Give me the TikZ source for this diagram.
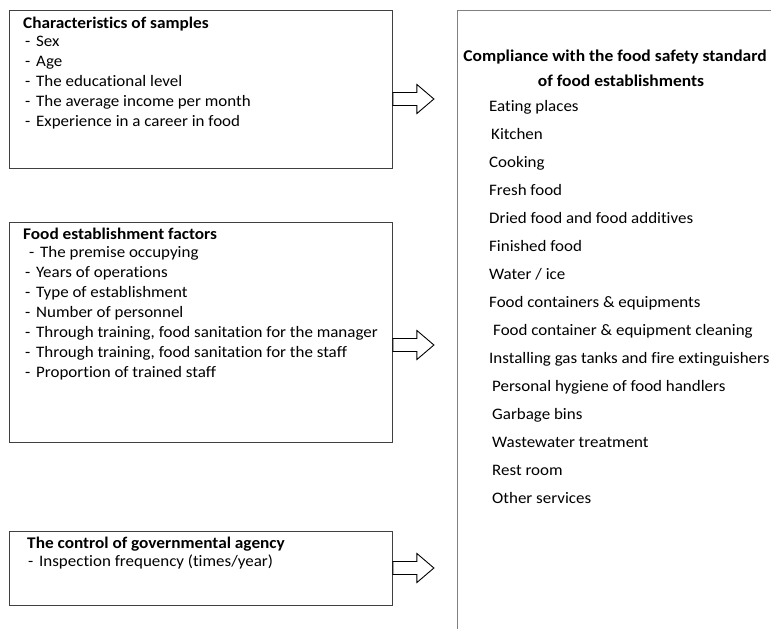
\documentclass[tikz,border=0pt]{standalone}
\usepackage{fontspec}
\setmainfont{Carlito}[FakeStretch=1.06,Ligatures=NoCommon]
\begin{document}
\begin{tikzpicture}[x=1pt,y=-1pt,
  box/.style={draw=black!75,line width=0.9pt,anchor=north west,inner sep=0pt},
  rbox/.style={draw=black!50,line width=1pt,anchor=north west,inner sep=0pt},
  txt/.style={anchor=base west,inner sep=0pt,font=\fontsize{16}{20}\selectfont},
  ttl/.style={txt,font=\fontsize{16.3}{20}\selectfont\bfseries},
  ctr/.style={anchor=base,inner sep=0pt,font=\fontsize{16.5}{20}\selectfont\bfseries},
  blockarrow/.style={draw=black,line width=0.9pt,fill=white,line join=miter}]
\useasboundingbox (0,0) rectangle (771,629);
\clip (0,0) rectangle (771,629);
\newcommand{\dashitem}[1]{\makebox[11pt][l]{-}#1}
% left boxes
\node[box,minimum width=383pt,minimum height=158pt] (b1) at (9,10) {};
\node[box,minimum width=383pt,minimum height=220pt] (b2) at (9,222) {};
\node[box,minimum width=383pt,minimum height=74pt] (b3) at (9,531) {};
% right box (runs off the page)
\node[rbox,minimum width=340pt,minimum height=660pt] (r) at (457,10) {};
% box 1 text
\node[ttl] (t1) at (23,28) {Characteristics of samples};
\node[txt] (t1a) at (25,46) {\dashitem{Sex}};
\node[txt] (t1b) at (25,66) {\dashitem{Age}};
\node[txt] (t1c) at (25,86) {\dashitem{The educational level}};
\node[txt] (t1d) at (25,106) {\dashitem{The average income per month}};
\node[txt] (t1e) at (25,126) {\dashitem{Experience in a career in food}};
% box 2 text
\node[ttl] (t2) at (23,239) {Food establishment factors};
\node[txt] (t2a) at (29,257) {\dashitem{The premise occupying}};
\node[txt] (t2b) at (25,277) {\dashitem{Years of operations}};
\node[txt] (t2c) at (25,297) {\dashitem{Type of establishment}};
\node[txt] (t2d) at (25,317) {\dashitem{Number of personnel}};
\node[txt] (t2e) at (25,337) {\dashitem{Through training, food sanitation for the manager}};
\node[txt] (t2f) at (25,357) {\dashitem{Through training, food sanitation for the staff}};
\node[txt] (t2g) at (25,377) {\dashitem{Proportion of trained staff}};
% box 3 text
\node[ttl] (t3) at (27,548) {The control of governmental agency};
\node[txt] (t3a) at (28,566) {\dashitem{Inspection frequency (times/year)}};
% right box text
\node[ctr] (rt1) at (615,61) {Compliance with the food safety standard};
\node[ctr] (rt2) at (621,86) {of food establishments};
\node[txt] (r1) at (489,111) {Eating places};
\node[txt] (r2) at (491,139) {Kitchen};
\node[txt] (r3) at (489,167) {Cooking};
\node[txt] (r4) at (489,195) {Fresh food};
\node[txt] (r5) at (489,223) {Dried food and food additives};
\node[txt] (r6) at (489,251) {Finished food};
\node[txt] (r7) at (489,279) {Water / ice};
\node[txt] (r8) at (489,307) {Food containers \& equipments};
\node[txt] (r9) at (493,335) {Food container \& equipment cleaning};
\node[txt] (r10) at (489,363) {Installing gas tanks and fire extinguishers};
\node[txt] (r11) at (492,391) {Personal hygiene of food handlers};
\node[txt] (r12) at (492,419) {Garbage bins};
\node[txt] (r13) at (492,447) {Wastewater treatment};
\node[txt] (r14) at (492,475) {Rest room};
\node[txt] (r15) at (492,503) {Other services};
% block arrows from each box toward the right box
\coordinate (a1) at (b1.east |- 0,99);
\coordinate (a2) at (b2.east |- 0,345);
\coordinate (a3) at (b3.east |- 0,568);
\foreach \a in {a1,a2,a3}{
  \draw[blockarrow] (\a) ++(0,-6.5) -- ++(24,0) -- ++(0,-8) -- ++(17,14.5)
    -- ++(-17,14.5) -- ++(0,-8) -- ++(-24,0) -- cycle;
}
\end{tikzpicture}
\end{document}
